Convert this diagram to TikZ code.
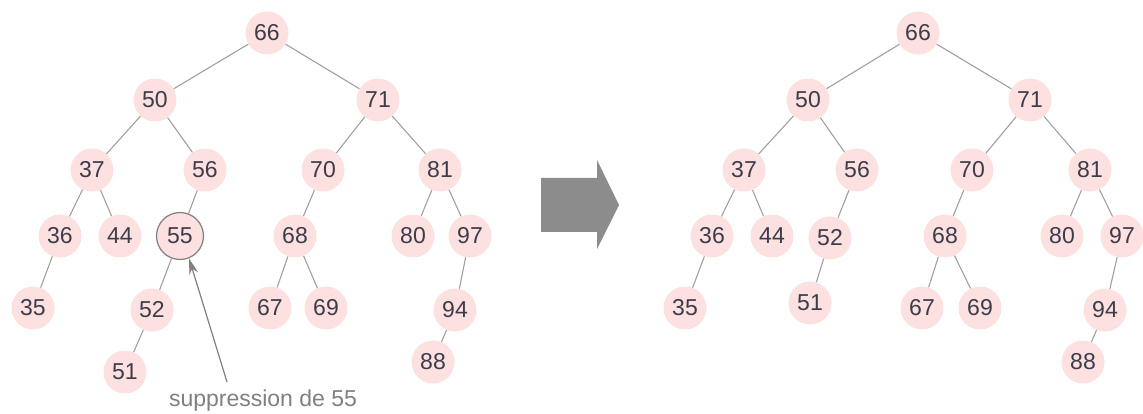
\documentclass[tikz,border=0pt]{standalone}
\usepackage{fontspec}
\setmainfont{Liberation Sans}
\usetikzlibrary{arrows.meta}
\definecolor{nodefill}{HTML}{FDE0E0}
\definecolor{nodetext}{HTML}{3C3C4A}
\definecolor{edgegray}{HTML}{A0A0A0}
\definecolor{bigarrow}{HTML}{8C8C8C}
\definecolor{notegray}{HTML}{808080}
\begin{document}
\begin{tikzpicture}[x=1pt,y=-1pt,
  key/.style={circle,fill=nodefill,text=nodetext,minimum size=43pt,inner sep=0pt,font=\fontsize{23}{23}\selectfont},
  edge/.style={draw=edgegray,line width=1.1pt}]
\useasboundingbox (0,0) rectangle (1143,414);

% ---- tree before deletion ----
\node[key] (a66) at (267,33) {66};
\node[key] (a50) at (155,100) {50};
\node[key] (a71) at (378,100) {71};
\node[key] (a37) at (92,170) {37};
\node[key] (a56) at (205,170) {56};
\node[key] (a70) at (323,170) {70};
\node[key] (a81) at (440,170) {81};
\node[key] (a36) at (60,236) {36};
\node[key] (a44) at (120,236) {44};
\node[key,draw=notegray,line width=1.2pt,minimum size=47pt] (a55) at (180,236) {55};
\node[key] (a68) at (295,236) {68};
\node[key] (a80) at (413,236) {80};
\node[key] (a97) at (470,236) {97};
\node[key] (a35) at (33,308) {35};
\node[key] (a52) at (152,310) {52};
\node[key] (a67) at (270,308) {67};
\node[key] (a69) at (326,308) {69};
\node[key] (a94) at (455,310) {94};
\node[key] (a51) at (125,372) {51};
\node[key] (a88) at (433,362) {88};

\foreach \p/\c in {a66/a50,a66/a71,a50/a37,a50/a56,a71/a70,a71/a81,
  a37/a36,a37/a44,a56/a55,a70/a68,a81/a80,a81/a97,a36/a35,a55/a52,
  a68/a67,a68/a69,a97/a94,a52/a51,a94/a88}
  \draw[edge] (\p) -- (\c);

% annotation
\node[text=notegray,font=\fontsize{23}{23}\selectfont] (note) at (263,401) {suppression de 55};
\coordinate (tail) at (227,382);
\draw[draw=notegray,line width=1.2pt,-{Stealth[length=16pt,width=9pt,fill=notegray]}] (tail) -- (a55.-68);

% ---- big arrow ----
\fill[bigarrow] (541,178) -- (597,178) -- (597,160) -- (619,205) -- (597,249) -- (597,232) -- (541,232) -- cycle;

% ---- tree after deletion ----
\node[key] (b66) at (918,33) {66};
\node[key] (b50) at (808,100) {50};
\node[key] (b71) at (1030,100) {71};
\node[key] (b37) at (744,170) {37};
\node[key] (b56) at (857,170) {56};
\node[key] (b70) at (972,170) {70};
\node[key] (b81) at (1090,170) {81};
\node[key] (b36) at (712,236) {36};
\node[key] (b44) at (772,236) {44};
\node[key] (b52) at (830,238) {52};
\node[key] (b68) at (945,236) {68};
\node[key] (b80) at (1062,236) {80};
\node[key] (b97) at (1122,236) {97};
\node[key] (b35) at (685,308) {35};
\node[key] (b51) at (810,303) {51};
\node[key] (b67) at (922,308) {67};
\node[key] (b69) at (980,308) {69};
\node[key] (b94) at (1105,310) {94};
\node[key] (b88) at (1083,362) {88};

\foreach \p/\c in {b66/b50,b66/b71,b50/b37,b50/b56,b71/b70,b71/b81,
  b37/b36,b37/b44,b56/b52,b70/b68,b81/b80,b81/b97,b36/b35,b52/b51,
  b68/b67,b68/b69,b97/b94,b94/b88}
  \draw[edge] (\p) -- (\c);
\end{tikzpicture}
\end{document}
